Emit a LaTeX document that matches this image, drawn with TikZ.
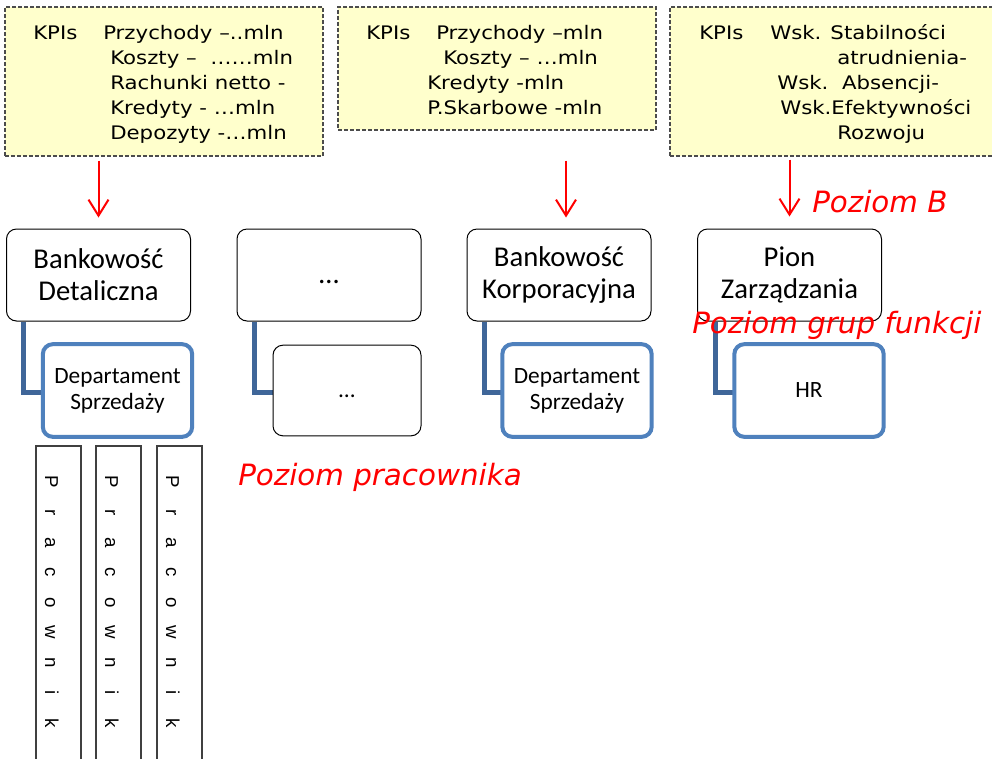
\documentclass[tikz,border=0pt]{standalone}
\usepackage{fontspec}
\setmainfont{DejaVu Sans}
\newfontfamily\kpifont[FakeStretch=1.14]{DejaVu Sans}
\newfontfamily\boxfont{Carlito}
\newfontfamily\tagfont{DejaVu Sans}
\newfontfamily\letterfont{Liberation Sans}
\usetikzlibrary{arrows.meta}

\definecolor{kpiyellow}{HTML}{FFFFCC}
\definecolor{deptblue}{HTML}{4F81BD}
\definecolor{linkblue}{HTML}{3F6699}

\begin{document}
\begin{tikzpicture}[x=0.75pt,y=-0.75pt,
  kpibox/.style={draw=black!70, dash pattern=on 3pt off 1.5pt, fill=kpiyellow, line width=0.8pt, inner sep=0pt},
  kpitext/.style={anchor=base west, inner sep=0pt, font=\kpifont\fontsize{14}{16}\selectfont},
  unitbox/.style={draw=black, rounded corners=7.5pt, line width=0.75pt, fill=white, align=center,
    font=\boxfont\fontsize{21.5}{24}\selectfont, inner sep=0pt,
    minimum width=138pt, minimum height=69pt},
  deptbox/.style={draw=deptblue, line width=3pt, rounded corners=7.5pt, fill=white, align=center,
    font=\boxfont\fontsize{17.5}{19.5}\selectfont, inner sep=0pt,
    minimum width=112pt, minimum height=69.5pt},
  subbox/.style={draw=black, rounded corners=7.5pt, line width=0.75pt, fill=white, align=center,
    font=\boxfont\fontsize{17.5}{19.5}\selectfont, inner sep=0pt,
    minimum width=111pt, minimum height=68pt},
  workerbox/.style={draw=black!75, line width=1pt, fill=white, inner sep=0pt,
    minimum width=33.75pt, minimum height=258pt},
  letter/.style={anchor=base, rotate=-90, inner sep=0pt, font=\letterfont\fontsize{14}{16}\selectfont},
  link/.style={draw=linkblue, line width=3.75pt},
  redarrow/.style={draw=red, line width=1.5pt, -{Straight Barb[length=12pt,width=15pt]}},
  tag/.style={anchor=base west, inner sep=0pt, text=red, font=\tagfont\itshape\fontsize{22}{24}\selectfont}
]
\clip (0,0) rectangle (992,758);
\fill[white] (0,0) rectangle (992,758);

% KPI panels
\node[kpibox, minimum width=238.5pt, minimum height=111.75pt] (kpiA) at (164,81.5) {};
\node[kpibox, minimum width=238.5pt, minimum height=92.25pt] (kpiB) at (497,68.5) {};
\node[kpibox, minimum width=247.5pt, minimum height=111.75pt] (kpiC) at (835,81.5) {};

% KPI texts, retail banking
\node[kpitext] (a0) at (33,39) {KPIs};
\node[kpitext] (a1) at (103,39) {Przychody –..mln};
\node[kpitext] (a2) at (110,64) {Koszty –\ \ ……mln};
\node[kpitext] (a3) at (110,89) {Rachunki netto -};
\node[kpitext] (a4) at (110,114) {Kredyty - …mln};
\node[kpitext] (a5) at (110,139) {Depozyty -…mln};

% KPI texts, corporate banking
\node[kpitext] (b0) at (366,39) {KPIs};
\node[kpitext] (b1) at (436,39) {Przychody –mln};
\node[kpitext] (b2) at (443,64) {Koszty – …mln};
\node[kpitext] (b3) at (427,89) {Kredyty -mln};
\node[kpitext] (b4) at (427,114) {P.Skarbowe -mln};

% KPI texts, management
\node[kpitext] (c0) at (699,39) {KPIs};
\node[kpitext] (c1) at (770,39) {Wsk. Stabilności};
\node[kpitext] (c2) at (837,64) {atrudnienia-};
\node[kpitext] (c3) at (777,89) {Wsk.\ \ Absencji-};
\node[kpitext] (c4) at (780,114) {Wsk.Efektywności};
\node[kpitext] (c5) at (837,139) {Rozwoju};

% business units
\node[unitbox] (bd) at (98.5,275) {Bankowość\\Detaliczna};
\node[unitbox] (d1) at (329,275) {\rule{0pt}{13pt}…};
\node[unitbox] (bk) at (559,275) {Bankowość\\Korporacyjna};
\node[unitbox] (pz) at (789.5,275) {Pion\\Zarządzania};

% links to departments
\draw[link] ([xshift=12.75pt]bd.south west) |- (117.5,392) coordinate (ds1in);
\draw[link] ([xshift=13.5pt]d1.south west) |- (347,392) coordinate (d2in);
\draw[link] ([xshift=13.5pt]bk.south west) |- (577,392) coordinate (ds2in);
\draw[link] ([xshift=14pt]pz.south west) |- (809,392) coordinate (hrin);

% departments
\node[deptbox] (ds1) at (117.5,390.5) {Departament\\Sprzedaży};
\node[subbox] (d2) at (347,390.5) {\rule{0pt}{10pt}…};
\node[deptbox] (ds2) at (577,390.5) {Departament\\Sprzedaży};
\node[deptbox] (hr) at (809,390.5) {HR};

% employees
\foreach \col/\xl in {prA/36, prB/96, prC/157} {
  \node[workerbox] (\col) at (\xl+22.5,618) {};
  \foreach \ch [count=\i from 0] in {P,r,a,c,o,w,n,i,k}
    \node[letter] (\col-\i) at (\xl+9,482+30.1*\i) {\ch};
}

% red arrows from KPI panels
\coordinate (bkin) at ([xshift=5.25pt]bk.north);
\draw[redarrow, shorten <=3pt, shorten >=8.25pt] (kpiA.south -| bd.north) -- (bd.north);
\draw[redarrow, shorten <=22.5pt, shorten >=8.25pt] (kpiB.south -| bkin) -- (bkin);
\draw[redarrow, shorten <=2.25pt, shorten >=9pt] (kpiC.south -| pz.north) -- (pz.north);

% level labels
\node[tag] (tagB) at (812,212) {Poziom B};
\node[tag] (tagF) at (692,333) {Poziom grup funkcji};
\node[tag] (tagP) at (238,485) {Poziom pracownika};
\end{tikzpicture}
\end{document}
